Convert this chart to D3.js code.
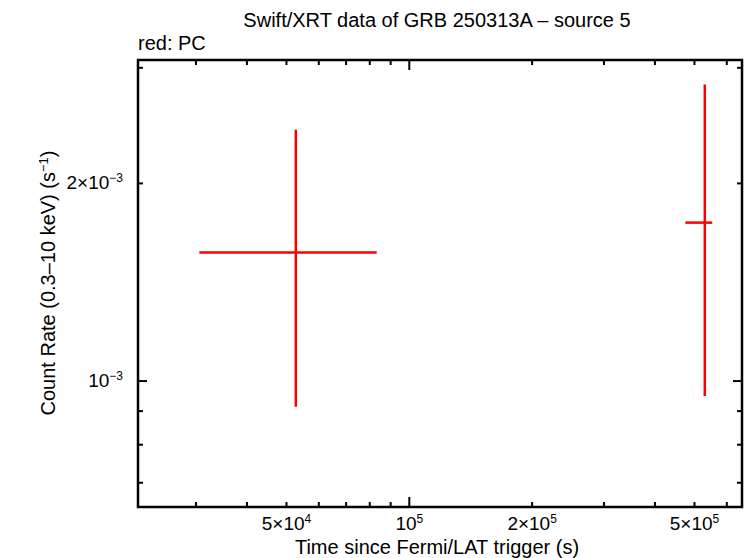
<!DOCTYPE html>
<html><head><meta charset="utf-8">
<script src="https://cdn.jsdelivr.net/npm/d3@7"></script>
<style>body{margin:0;background:#fff}svg{display:block}text{font-family:"Liberation Sans",Arial,sans-serif;fill:#000}</style>
</head><body><svg id="c" width="746" height="558"></svg>
<script>
// data: PC mode points
const tMid   = [52700, 530000];
const tLo    = [30570, 475000];
const tHi    = [83200, 552700];
const rate   = [1.569e-3, 1.743e-3];
const rateLo = [9.14e-4, 9.49e-4];
const rateHi = [2.415e-3, 2.828e-3];

const xMajor = [1e5];
const xMinor = [3e4,4e4,5e4,6e4,7e4,8e4,9e4,2e5,3e5,4e5,5e5,6e5];
const xLabels = [{v:5e4,m:"5×10",e:"4"},{v:1e5,m:"10",e:"5"},{v:2e5,m:"2×10",e:"5"},{v:5e5,m:"5×10",e:"5"}];
const yMajor = [1e-3];
const yMinor = [7e-4,8e-4,9e-4,2e-3,3e-3];
const yLabels = [{v:1e-3,m:"10",e:"−3"},{v:2e-3,m:"2×10",e:"−3"}];

const L=138,R=742,T=60,B=507;
const x=d3.scaleLog().domain([21630,653800]).range([L,R]);
const y=d3.scaleLog().domain([6.43e-4,3.083e-3]).range([B,T]);
const svg=d3.select("#c");

// ticks
const tk=svg.append("g").attr("stroke","#000").attr("stroke-width",2);
function xt(vals,len){vals.forEach(v=>{const px=x(v);
  tk.append("line").attr("x1",px).attr("x2",px).attr("y1",B).attr("y2",B-len);
  tk.append("line").attr("x1",px).attr("x2",px).attr("y1",T).attr("y2",T+len);});}
function yt(vals,len){vals.forEach(v=>{const py=y(v);
  tk.append("line").attr("y1",py).attr("y2",py).attr("x1",L).attr("x2",L+len);
  tk.append("line").attr("y1",py).attr("y2",py).attr("x1",R).attr("x2",R-len);});}
xt(xMajor,10);xt(xMinor,5);yt(yMajor,9);yt(yMinor,5);

svg.append("rect").attr("x",L).attr("y",T).attr("width",R-L).attr("height",B-T)
  .attr("fill","none").attr("stroke","#000").attr("stroke-width",2.5);

// tick labels
xLabels.forEach(d=>{const t=svg.append("text").attr("x",x(d.v)).attr("y",530).attr("text-anchor","middle").attr("font-size",19);
  t.append("tspan").text(d.m);t.append("tspan").attr("dy",-7).attr("font-size",12).text(d.e);});
yLabels.forEach(d=>{const t=svg.append("text").attr("x",123).attr("y",y(d.v)+6).attr("text-anchor","end").attr("font-size",19);
  t.append("tspan").text(d.m);t.append("tspan").attr("dy",-7).attr("font-size",12).text(d.e);});

// data
const g=svg.append("g").attr("stroke","#ff0000").attr("stroke-width",2.5);
tMid.forEach((t,i)=>{
  g.append("line").attr("x1",x(tLo[i])).attr("x2",x(tHi[i])).attr("y1",y(rate[i])).attr("y2",y(rate[i]));
  g.append("line").attr("x1",x(t)).attr("x2",x(t)).attr("y1",y(rateLo[i])).attr("y2",y(rateHi[i]));
});

// titles
svg.append("text").attr("x",437).attr("y",27).attr("text-anchor","middle").attr("font-size",20).text("Swift/XRT data of GRB 250313A – source 5");
svg.append("text").attr("x",138).attr("y",50).attr("font-size",20).text("red: PC");
svg.append("text").attr("x",437).attr("y",554).attr("text-anchor","middle").attr("font-size",20).text("Time since Fermi/LAT trigger (s)");
const yl=svg.append("text").attr("transform","translate(55,283) rotate(-90)").attr("text-anchor","middle").attr("font-size",20);
yl.append("tspan").text("Count Rate (0.3–10 keV) (s");
yl.append("tspan").attr("dy",-7).attr("font-size",13).text("−1");
yl.append("tspan").attr("dy",7).text(")");
</script></body></html>
